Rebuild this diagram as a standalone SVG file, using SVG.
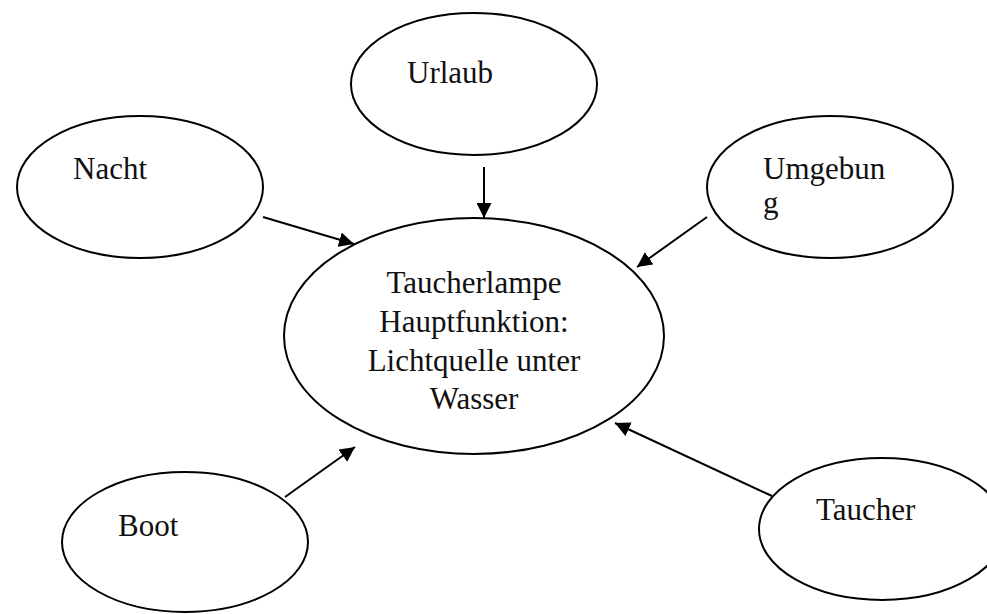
<svg xmlns="http://www.w3.org/2000/svg" width="987" height="614" viewBox="0 0 987 614">
<style>
.node ellipse{fill:#fff;stroke:#000;stroke-width:2}
text{font-family:"Liberation Serif","Times New Roman",serif;font-size:31px;fill:#111}
.conn line{stroke:#000;stroke-width:2;marker-end:url(#arr)}
</style>
<defs>
<marker id="arr" markerUnits="userSpaceOnUse" markerWidth="16" markerHeight="15" refX="15" refY="7.5" orient="auto">
<path d="M0,0 L15,7.5 L0,15 z" fill="#000"/>
</marker>
</defs>
<rect width="987" height="614" fill="#fff"/>
<g id="urlaub" class="node"><ellipse cx="474" cy="84" rx="123" ry="71"/><text x="407" y="83">Urlaub</text></g>
<g id="nacht" class="node"><ellipse cx="140" cy="187" rx="123" ry="71"/><text x="73" y="179">Nacht</text></g>
<g id="umgebung" class="node"><ellipse cx="830" cy="187" rx="123" ry="71"/><text x="763" y="179">Umgebun</text><text x="763" y="213">g</text></g>
<g id="center" class="node"><ellipse cx="474" cy="336" rx="190" ry="118"/>
<text text-anchor="middle" x="474" y="293">Taucherlampe</text>
<text text-anchor="middle" x="474" y="332">Hauptfunktion:</text>
<text text-anchor="middle" x="474" y="371">Lichtquelle unter</text>
<text text-anchor="middle" x="474" y="409">Wasser</text></g>
<g id="boot" class="node"><ellipse cx="185" cy="542" rx="123" ry="70"/><text x="118" y="536">Boot</text></g>
<g id="taucher" class="node"><ellipse cx="882" cy="529" rx="123" ry="71"/><text x="816" y="520">Taucher</text></g>
<g id="connectors" class="conn">
<line x1="484" y1="167" x2="484" y2="218"/>
<line x1="263" y1="217" x2="354" y2="244"/>
<line x1="707" y1="217" x2="637" y2="267"/>
<line x1="285" y1="497" x2="355" y2="447"/>
<line x1="772" y1="496" x2="615" y2="423"/>
</g>
</svg>
